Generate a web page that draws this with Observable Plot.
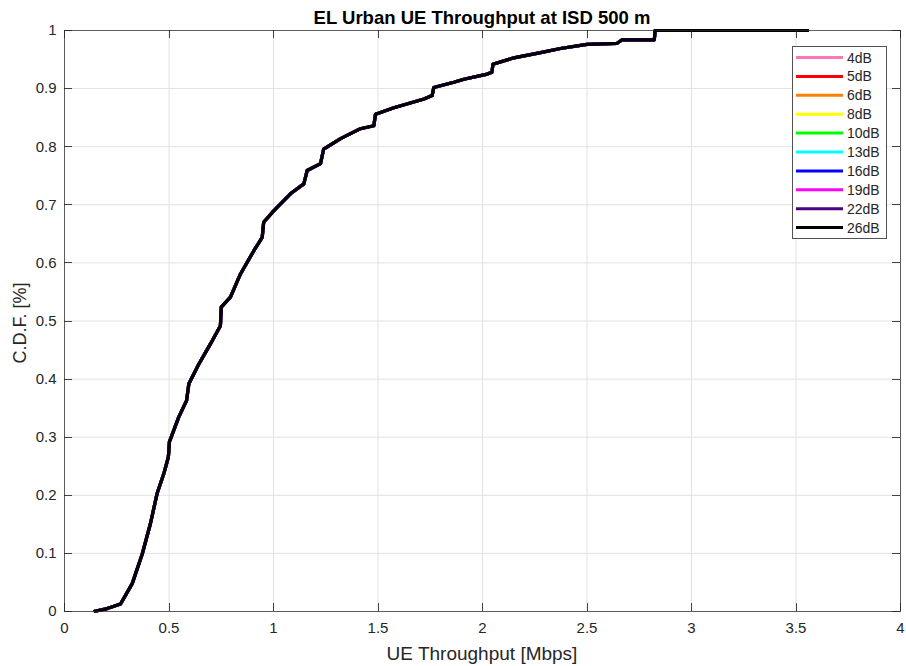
<!DOCTYPE html>
<html>
<head>
<meta charset="utf-8">
<script src="https://cdn.jsdelivr.net/npm/d3@7"></script>
<script src="https://cdn.jsdelivr.net/npm/@observablehq/plot@0.6"></script>
<style>
  html, body { margin: 0; padding: 0; background: #fff; }
  #wrap { position: relative; width: 906px; height: 666px; font-family: "Liberation Sans", Arial, Helvetica, sans-serif; color: #262626; }
  #title { position: absolute; left: 64px; width: 836px; top: 7px; line-height: 21px; text-align: center; font-weight: bold; font-size: 18.5px; color: #000; }
  #xlabel { position: absolute; left: 64px; width: 836px; top: 643px; line-height: 22px; text-align: center; font-size: 19px; color: #262626; }
  #ylabel { position: absolute; left: 20px; top: 323px; line-height: 20px; transform: translate(-50%, -50%) rotate(-90deg); white-space: nowrap; font-size: 18px; color: #262626; }
</style>
</head>
<body>
<div id="wrap">
  <div id="chart"></div>
  <div id="title">EL Urban UE Throughput at ISD 500 m</div>
  <div id="xlabel">UE Throughput [Mbps]</div>
  <div id="ylabel">C.D.F. [%]</div>
</div>
<script>
// Series (all curves coincide in the reference; the last one, 26dB, is drawn on top)
const seriesNames = ["4dB", "5dB", "6dB", "8dB", "10dB", "13dB", "16dB", "19dB", "22dB", "26dB"];
const seriesColors = ["#ff77bb", "#ff0000", "#ff8000", "#ffff00", "#00ff00", "#00ffff", "#0000ff", "#ff00ff", "#4b0082", "#000000"];

// CDF curve
const throughput = [0.14, 0.204, 0.268, 0.324, 0.372, 0.411, 0.443, 0.475, 0.497, 0.502, 0.547, 0.584, 0.595, 0.643, 0.699, 0.746, 0.750, 0.794, 0.842, 0.906, 0.946, 0.953, 1.002, 1.081, 1.145, 1.161, 1.225, 1.24, 1.321, 1.416, 1.48, 1.488, 1.576, 1.72, 1.759, 1.767, 1.863, 1.911, 2.023, 2.045, 2.05, 2.15, 2.278, 2.373, 2.5, 2.644, 2.668, 2.822, 2.826, 3.561];
const cdf =        [0.0,  0.005, 0.013, 0.048, 0.099, 0.151, 0.203, 0.237, 0.266, 0.292, 0.335, 0.363, 0.392, 0.426, 0.461, 0.492, 0.524, 0.541, 0.581, 0.621, 0.644, 0.670, 0.690, 0.719, 0.736, 0.759, 0.771, 0.796, 0.814, 0.831, 0.836, 0.856, 0.867, 0.882, 0.888, 0.902, 0.911, 0.916, 0.925, 0.928, 0.942, 0.953, 0.962, 0.969, 0.976, 0.978, 0.984, 0.984, 1.0, 1.0];

const xTicks = [0, 0.5, 1, 1.5, 2, 2.5, 3, 3.5, 4];
const yTicks = [0, 0.1, 0.2, 0.3, 0.4, 0.5, 0.6, 0.7, 0.8, 0.9, 1];

const rows = [];
seriesNames.forEach((s, si) => {
  throughput.forEach((t, i) => rows.push({series: s, order: si, x: t, y: cdf[i]}));
});

const axisColor = "#262626";
const plot = Plot.plot({
  width: 906,
  height: 666,
  marginLeft: 64,
  marginRight: 6,
  marginTop: 30,
  marginBottom: 55,
  style: {fontFamily: "'Liberation Sans', Arial, Helvetica, sans-serif", fontSize: "15px", color: axisColor, background: "white", overflow: "visible"},
  x: {domain: [0, 4]},
  y: {domain: [0, 1]},
  color: {domain: seriesNames, range: seriesColors},
  marks: [
    Plot.ruleX(xTicks.slice(1, -1), {stroke: "#e2e2e2", strokeWidth: 1}),
    Plot.ruleY(yTicks.slice(1, -1), {stroke: "#e2e2e2", strokeWidth: 1}),
    ...seriesNames.map(s => Plot.line(rows.filter(d => d.series === s), {x: "x", y: "y", stroke: "series", strokeWidth: 3.2, strokeLinejoin: "round", strokeLinecap: "butt"})),
    Plot.frame({stroke: axisColor, strokeOpacity: 0.75, strokeWidth: 1}),
    Plot.axisX(xTicks, {anchor: "bottom", tickSize: 0, tickPadding: 11, tickFormat: d => String(d), label: null}),
    Plot.axisY(yTicks, {anchor: "left", tickSize: 0, tickPadding: 8, tickFormat: d => String(d), label: null})
  ]
});
document.getElementById("chart").appendChild(plot);

const svg = d3.select(plot);
const xs = plot.scale("x"), ys = plot.scale("y");
const [x0, x1] = xs.range, [y0, y1] = ys.range; // y0 bottom, y1 top
const tg = svg.append("g").attr("stroke", axisColor).attr("stroke-opacity", 0.85).attr("stroke-width", 1);
xTicks.forEach(v => {
  const px = Math.round(xs.apply(v)) + 0.5;
  tg.append("line").attr("x1", px).attr("x2", px).attr("y1", y0).attr("y2", y0 - 8);
  tg.append("line").attr("x1", px).attr("x2", px).attr("y1", y1).attr("y2", y1 + 8);
});
yTicks.forEach(v => {
  const py = Math.round(ys.apply(v)) + 0.5;
  tg.append("line").attr("y1", py).attr("y2", py).attr("x1", x0).attr("x2", x0 + 8);
  tg.append("line").attr("y1", py).attr("y2", py).attr("x1", x1).attr("x2", x1 - 8);
});

// Legend (inside the plot, top right)
const lg = svg.append("g").attr("transform", "translate(792,46)").attr("text-anchor", "start");
lg.append("rect").attr("x", 0.5).attr("y", 0.5).attr("width", 94).attr("height", 192)
  .attr("fill", "white").attr("stroke", axisColor).attr("stroke-opacity", 0.8);
seriesNames.forEach((s, i) => {
  const yy = 11.5 + i * 18.9;
  lg.append("line").attr("x1", 4).attr("x2", 51).attr("y1", yy).attr("y2", yy)
    .attr("stroke", seriesColors[i]).attr("stroke-width", 3);
  lg.append("text").attr("x", 55).attr("y", yy).attr("dy", "0.36em")
    .attr("font-size", "14px").attr("fill", axisColor).text(s);
});
</script>
</body>
</html>
